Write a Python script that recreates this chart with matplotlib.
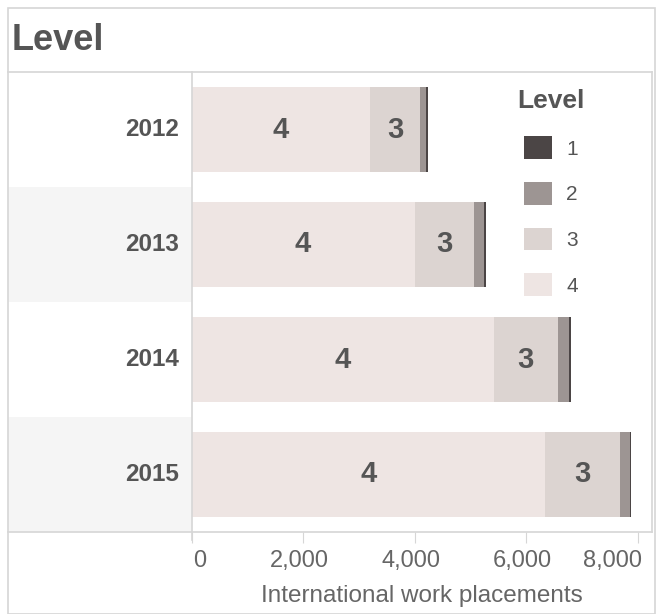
import numpy as np
import matplotlib.pyplot as plt
import matplotlib.transforms as mtransforms
from matplotlib.patches import Patch, Rectangle
from matplotlib.lines import Line2D

years = ['2012', '2013', '2014', '2015']
level4 = [3200, 4000, 5420, 6340]
level3 = [900, 1060, 1150, 1345]
level2 = [110, 190, 210, 180]
level1 = [25, 25, 30, 25]
levels = ['1', '2', '3', '4']
colors = {'1': '#4b4545', '2': '#9d9593', '3': '#dcd4d1', '4': '#eee5e3'}
xticks = [0, 2000, 4000, 6000, 8000]

W, H = 659, 614
plt.rcParams['font.family'] = ['Liberation Sans', 'DejaVu Sans']
txt = '#555555'
grid = '#d6d6d6'

fig = plt.figure(figsize=(W/100, H/100), dpi=100)

def box(x0, y0, x1, y1):
    # pixel box (top-left origin) -> figure fraction rect
    return [x0/W, 1 - y1/H, (x1 - x0)/W, (y1 - y0)/H]

top, bot = 72, 532
ax = fig.add_axes(box(191.5, top, 652, bot))
hx = fig.add_axes(box(8, top, 191.5, bot))

n = len(years)
y = np.arange(n)
for a in (ax, hx):
    a.set_ylim(n - 0.5, -0.5)
    for s in a.spines.values():
        s.set_visible(False)

# row header pane
for i, yr in enumerate(years):
    if i % 2 == 1:
        hx.axhspan(i - 0.5, i + 0.5, color='#f5f5f5', lw=0)
    hx.text(0.93, i, yr, transform=hx.get_yaxis_transform(), ha='right', va='center',
            fontsize=17.5, fontweight='bold', color=txt)
hx.set_xlim(0, 1)
hx.set_xticks([])
hx.set_yticks([])

# stacked bars
h = 0.74
l4 = np.array(level4); l3 = np.array(level3); l2 = np.array(level2); l1 = np.array(level1)
ax.barh(y, l4, height=h, color=colors['4'], lw=0)
ax.barh(y, l3, left=l4, height=h, color=colors['3'], lw=0)
ax.barh(y, l2, left=l4 + l3, height=h, color=colors['2'], lw=0)
ax.barh(y, l1, left=l4 + l3 + l2, height=h, color=colors['1'], lw=0)
for i in range(n):
    ax.text(l4[i] / 2, y[i], '4', ha='center', va='center', fontsize=21,
            fontweight='bold', color=txt)
    ax.text(l4[i] + l3[i] / 2, y[i], '3', ha='center', va='center', fontsize=21,
            fontweight='bold', color=txt)

ax.set_xlim(0, 8260)
ax.set_xticks(xticks)
ax.set_xticklabels(['{:,}'.format(v) for v in xticks], fontsize=17, color='#666666')
ax.tick_params(axis='x', length=8, color=grid, pad=5)
labs = ax.get_xticklabels()
# keep edge labels inside the pane, like the original
labs[0].set_ha('left')
labs[0].set_transform(labs[0].get_transform() + mtransforms.ScaledTranslation(2/100, 0, fig.dpi_scale_trans))
labs[-1].set_ha('right')
labs[-1].set_transform(labs[-1].get_transform() + mtransforms.ScaledTranslation(4/100, 0, fig.dpi_scale_trans))
for lab in labs[1:-1]:
    lab.set_transform(lab.get_transform() + mtransforms.ScaledTranslation(-4/100, 0, fig.dpi_scale_trans))
ax.set_yticks([])
ax.set_xlabel('International work placements', fontsize=17.5, color='#666666', labelpad=9)

handles = [Patch(facecolor=colors[l], edgecolor='none', label=l) for l in levels]
leg = ax.legend(handles=handles, title='Level', loc='upper left',
                bbox_to_anchor=(507/W, 1 - 79/H), bbox_transform=fig.transFigure,
                frameon=False, fontsize=15, title_fontsize=19,
                handlelength=1.3, handleheight=1.3, labelspacing=1.1,
                handletextpad=0.7, borderpad=0)
leg.get_title().set_fontweight('bold')
leg.get_title().set_color(txt)
for t in leg.get_texts():
    t.set_color(txt)

# title and frame lines
fig.text(12/W, 1 - 40/H, 'Level', fontsize=26, fontweight='bold', color=txt,
         ha='left', va='center')
fig.add_artist(Rectangle((8/W, 0), (655 - 8)/W, 1 - 8/H, transform=fig.transFigure,
                         fill=False, ec=grid, lw=1.2))
fig.add_artist(Line2D([8/W, 652/W], [1 - top/H] * 2, transform=fig.transFigure, color=grid, lw=1.2))
fig.add_artist(Line2D([8/W, 652/W], [1 - bot/H] * 2, transform=fig.transFigure, color=grid, lw=1.2))
fig.add_artist(Line2D([191.5/W] * 2, [1 - top/H, 1 - 540/H], transform=fig.transFigure, color=grid, lw=1.2))
fig.add_artist(Line2D([652/W] * 2, [1 - top/H, 1 - bot/H], transform=fig.transFigure, color=grid, lw=1.2))

fig.savefig('out.png', dpi=100)
